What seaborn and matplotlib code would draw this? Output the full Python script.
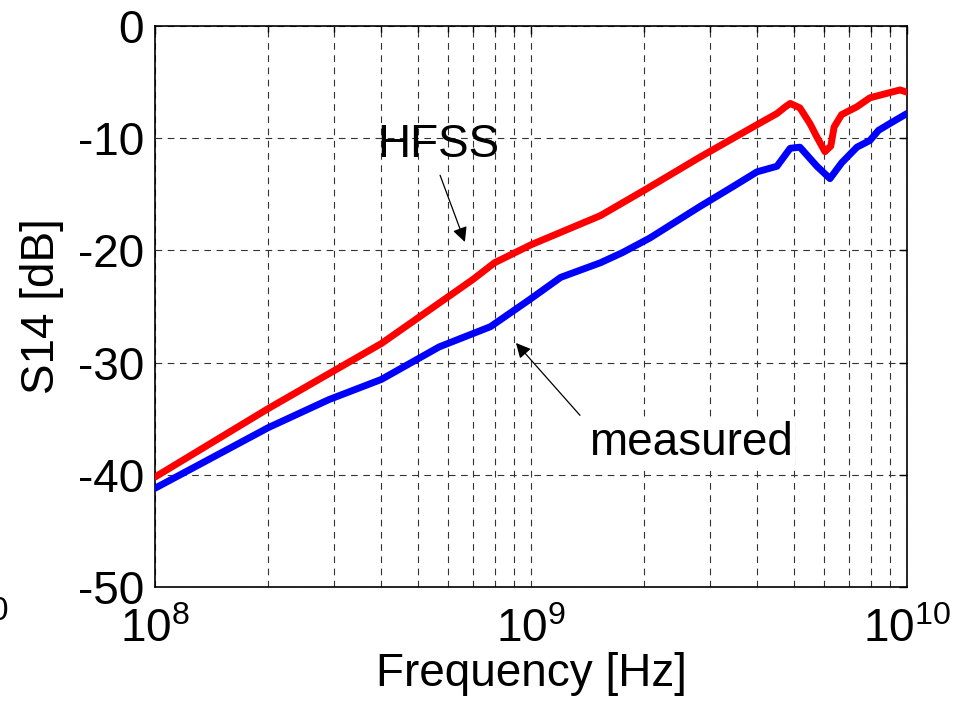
import matplotlib
matplotlib.use("Agg")
import matplotlib.pyplot as plt
import seaborn as sns
import pandas as pd
import numpy as np
from matplotlib.ticker import LogLocator, NullFormatter

# ---- data ----
hfss_freq = [1e8, 2e8, 4e8, 7e8, 8e8, 1e9, 1.53e9, 2.01e9, 2.81e9, 3.45e9, 3.99e9,
             4.51e9, 4.75e9, 4.89e9, 5.19e9, 5.52e9, 5.76e9, 6.05e9, 6.27e9, 6.4e9,
             6.7e9, 7.36e9, 7.97e9, 8.85e9, 9.58e9, 1e10]
hfss_db = [-40.2, -34.1, -28.3, -22.6, -21.1, -19.5, -16.9, -14.6, -11.7, -10.0, -8.8,
           -7.8, -7.2, -6.9, -7.3, -8.7, -9.9, -11.2, -10.7, -9.0,
           -7.9, -7.2, -6.4, -6.0, -5.7, -5.9]

meas_freq = [1e8, 2e8, 2.9e8, 4e8, 5.7e8, 7.8e8, 9.9e8, 1.2e9, 1.53e9, 1.75e9, 2.07e9,
             2.81e9, 3.45e9, 3.99e9, 4.51e9, 4.89e9, 5.19e9, 5.76e9, 6.24e9, 6.7e9,
             7.36e9, 7.97e9, 8.4e9, 9.1e9, 1e10]
meas_db = [-41.2, -35.8, -33.3, -31.5, -28.6, -26.8, -24.4, -22.4, -21.1, -20.2, -18.9,
           -16.1, -14.3, -13.0, -12.5, -10.9, -10.8, -12.5, -13.6, -12.2,
           -10.8, -10.2, -9.3, -8.6, -7.8]

y_ticks = [0, -10, -20, -30, -40, -50]
x_ticks = [1e8, 1e9, 1e10]
x_tick_labels = [r"$10^{8}$", r"$10^{9}$", r"$10^{10}$"]

df = pd.concat([
    pd.DataFrame({"f": hfss_freq, "S14": hfss_db, "series": "HFSS"}),
    pd.DataFrame({"f": meas_freq, "S14": meas_db, "series": "measured"}),
])

sns.set_style("white")
plt.rcParams["font.family"] = ["Liberation Sans", "DejaVu Sans"]
plt.rcParams["mathtext.fontset"] = "custom"
plt.rcParams["mathtext.rm"] = "Liberation Sans"
plt.rcParams["mathtext.it"] = "Liberation Sans"
plt.rcParams["axes.unicode_minus"] = False
plt.rcParams["text.color"] = "black"
plt.rcParams["axes.labelcolor"] = "black"
plt.rcParams["xtick.color"] = "black"
plt.rcParams["ytick.color"] = "black"

fig = plt.figure(figsize=(9.57, 7.11), dpi=100)
ax = fig.add_axes([155/957, 1-587/711, (907-155)/957, (587-26)/711])

sns.lineplot(data=df, x="f", y="S14", hue="series",
             palette={"HFSS": "#ff0000", "measured": "#0000ff"},
             linewidth=5, ax=ax, legend=False, sort=False, zorder=3)

ax.set_xscale("log")
ax.set_xlim(1e8, 1e10)
ax.set_ylim(-50, 0)
ax.set_yticks(y_ticks)
ax.set_yticklabels([str(v) for v in y_ticks])
ax.set_xticks(x_ticks)
ax.set_xticklabels(x_tick_labels)
ax.xaxis.set_minor_locator(LogLocator(base=10, subs=np.arange(2, 10)))
ax.xaxis.set_minor_formatter(NullFormatter())

ax.grid(True, which="major", axis="both", color="#333333", linestyle=(0, (6, 5)), linewidth=0.8)
ax.grid(True, which="minor", axis="x", color="#333333", linestyle=(0, (6, 5)), linewidth=0.8)

for s in ax.spines.values():
    s.set_color("black")
    s.set_linewidth(1.2)
ax.tick_params(axis="both", which="both", direction="in", top=True, right=True,
               colors="black", labelcolor="black", labelsize=33, width=1)
ax.tick_params(axis="both", which="major", length=6, pad=8)
ax.tick_params(axis="x", which="major", pad=15)
ax.tick_params(axis="x", which="minor", length=4)

ax.set_xlabel("Frequency [Hz]", fontsize=33, labelpad=0, color="black")
ax.set_ylabel("S14 [dB]", fontsize=33, labelpad=10, color="black")

ax.text(5.66e8, -10.6, "HFSS", fontsize=33, ha="center", va="center", zorder=5, color="black")
ax.annotate("", xy=(6.67e8, -19.25), xytext=(5.73e8, -13.3),
            arrowprops=dict(arrowstyle="-|>", color="black", lw=0.9,
                            mutation_scale=22, shrinkA=0, shrinkB=0), zorder=5)

ax.text(2.66e9, -37.2, "measured", fontsize=33, ha="center", va="center", zorder=5,
        color="black", bbox=dict(facecolor="white", edgecolor="none", pad=2))
ax.annotate("", xy=(9.12e8, -28.25), xytext=(1.35e9, -34.7),
            arrowprops=dict(arrowstyle="-|>", color="black", lw=0.9,
                            mutation_scale=22, shrinkA=0, shrinkB=0), zorder=5)

# cut-off fragment at the left edge (as in the reference)
fig.text(8/957, 1-612/711, "0", fontsize=24, ha="right", va="center", color="black")

fig.savefig("out.png", dpi=100)
